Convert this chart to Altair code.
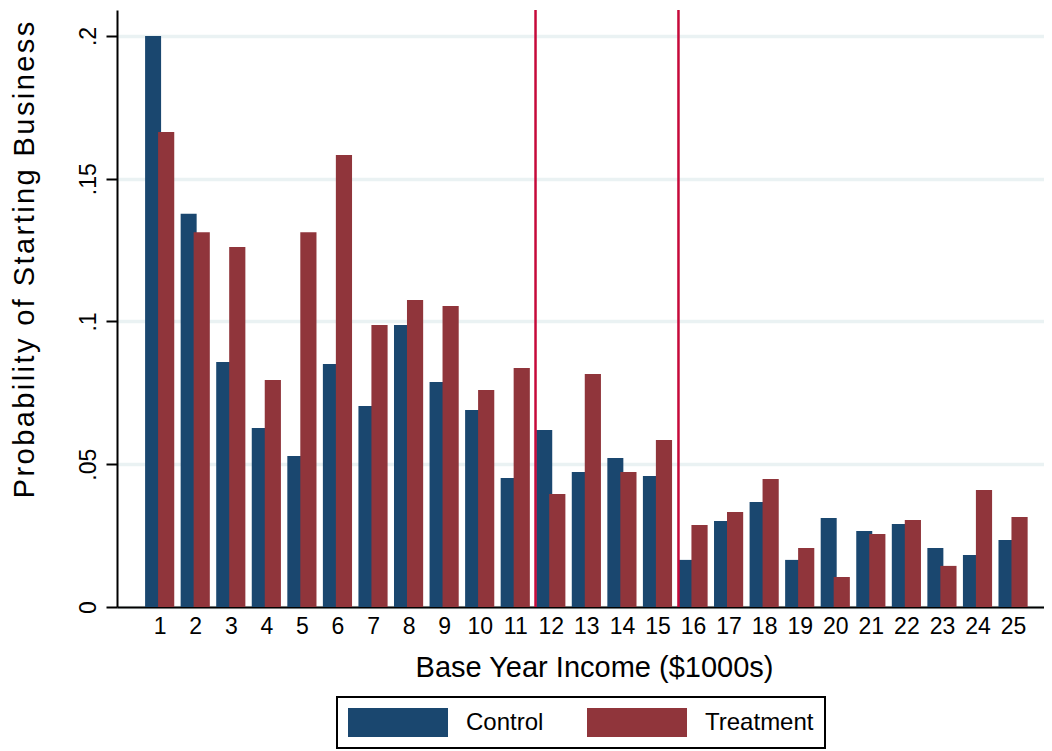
import altair as alt
import pandas as pd

income = list(range(1, 26))
control = [0.200, 0.1377, 0.0858, 0.0627, 0.0529, 0.0851, 0.0704, 0.0988, 0.0788, 0.0690,
           0.0452, 0.0620, 0.0473, 0.0522, 0.0459, 0.0165, 0.0301, 0.0368, 0.0165, 0.0312,
           0.0266, 0.0291, 0.0207, 0.0182, 0.0235]
treatment = [0.1664, 0.1313, 0.1261, 0.0795, 0.1313, 0.1583, 0.0988, 0.1075, 0.1054, 0.0760,
             0.0837, 0.0396, 0.0816, 0.0473, 0.0585, 0.0287, 0.0333, 0.0448, 0.0207, 0.0105,
             0.0256, 0.0305, 0.0144, 0.0410, 0.0315]
cutoffs = [11.57, 15.59]
groups = ["Control", "Treatment"]
colors = ["#1a476f", "#90353b"]
tick_values_y = [0, 0.05, 0.1, 0.15, 0.2]

rows = []
for g, vals in zip(groups, [control, treatment]):
    for i, v in zip(income, vals):
        rows.append({"income": i, "prob": v, "group": g})
df = pd.DataFrame(rows)
cut_df = pd.DataFrame({"cut": cutoffs})

FONT = "Liberation Sans"
ytitle = "\u200a".join(list("Probability of Starting Business"))

xscale = alt.Scale(domain=[-0.2, 25.87], nice=False, zero=False)
yscale = alt.Scale(domain=[0, 0.2091], nice=False, zero=True)

xaxis = alt.Axis(
    values=income, tickSize=0, ticks=False, labelPadding=8, labelFontSize=23,
    labelFont=FONT, labelColor="black", labelFlush=False, labelOverlap=False,
    labelBound=False,
    grid=False, domainColor="black", domainWidth=2,
    title="Base Year Income ($1000s)", titleFont=FONT, titleFontSize=29,
    titleFontWeight="normal", titleColor="black", titleX=477, titleY=69,
    titleAlign="center", titleBaseline="alphabetic")

bars = alt.Chart(df).transform_calculate(
    x0="datum.income + (datum.group == 'Control' ? -0.41 : -0.045)",
    x1="datum.income + (datum.group == 'Control' ? 0.04 : 0.41)",
).mark_rect().encode(
    x=alt.X("x0:Q", scale=xscale, axis=xaxis),
    x2="x1:Q",
    y=alt.Y("prob:Q", scale=yscale, axis=alt.Axis(
        values=tick_values_y,
        labelExpr="datum.value == 0 ? '0' : replace(format(datum.value, '.2~f'), '0.', '.')",
        labelAngle=270, labelAlign="center", labelBaseline="alphabetic",
        labelFontSize=23, labelFont=FONT, labelColor="black", labelPadding=11,
        tickSize=11, tickWidth=2, tickColor="black", domainColor="black", domainWidth=2,
        grid=True, gridColor="#eaf2f3", gridWidth=3.5,
        title=ytitle, titleFont=FONT, titleFontSize=29, titleFontWeight="normal",
        titleColor="black", titleAngle=270, titleAlign="center",
        titleBaseline="alphabetic", titleX=-84, titleY=249.5)),
    y2=alt.Y2(datum=0),
    color=alt.Color("group:N", scale=alt.Scale(domain=groups, range=colors),
                    legend=alt.Legend(
                        orient="none", legendX=220, legendY=687, direction="horizontal",
                        title=None, symbolType="M-1,-1H5.897V1H-1Z", symbolSize=841,
                        symbolStrokeWidth=0, symbolOpacity=1,
                        labelFontSize=24, labelFont=FONT, labelColor="black",
                        labelOffset=89, columnPadding=12, padding=11,
                        strokeColor="black", gridAlign="all")),
)

rules = alt.Chart(cut_df).mark_rule(color="#c60a3a", strokeWidth=2.5).encode(
    x=alt.X("cut:Q", scale=xscale, axis=xaxis)
)

chart = alt.layer(bars, rules).properties(
    width=927, height=597,
    autosize=alt.AutoSizeParams(type="none"),
    padding={"left": 109, "top": 2, "right": 0, "bottom": 142},
).configure_view(stroke=None).configure_legend(strokeWidth=2)

chart.save("out.html", embed_options={"renderer": "svg", "actions": False})
